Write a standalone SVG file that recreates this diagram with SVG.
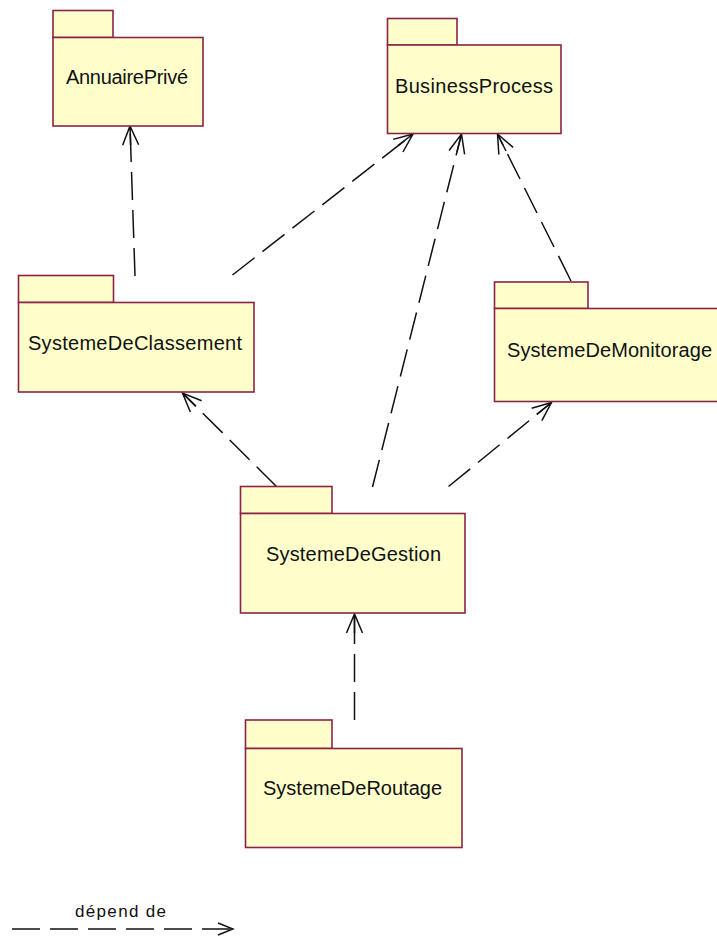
<svg xmlns="http://www.w3.org/2000/svg" width="717" height="936" viewBox="0 0 717 936">
<style>
.pk{fill:#FFFFCC;stroke:#8B2348;stroke-width:1.6}
.lb{font-family:"Liberation Sans",Arial,sans-serif;font-size:20px;fill:#111}
.dep{fill:none;stroke:#111;stroke-width:1.5;stroke-dasharray:28 10}
.lg{font-family:"Liberation Sans",Arial,sans-serif;font-size:17px;fill:#111}
</style>
<defs>
<marker id="ah" markerUnits="userSpaceOnUse" markerWidth="30" markerHeight="30" refX="0" refY="0" viewBox="-25 -15 30 30" orient="auto" overflow="visible">
<path d="M-19,-8 L0,0 L-19,8 M-19,0 L0,0" fill="none" stroke="#111" stroke-width="1.5"/>
</marker>
<marker id="ahs" markerUnits="userSpaceOnUse" markerWidth="30" markerHeight="30" refX="0" refY="0" viewBox="-25 -15 30 30" orient="auto" overflow="visible">
<path d="M-15,-6 L0,0 L-15,6" fill="none" stroke="#111" stroke-width="1.4"/>
</marker>
</defs>
<rect width="717" height="936" fill="#fff"/>
<g id="connectors">
<line class="dep" x1="135" y1="276" x2="130" y2="126" marker-end="url(#ah)"/>
<line class="dep" x1="232.5" y1="275" x2="413" y2="134" marker-end="url(#ah)"/>
<line class="dep" x1="372.5" y1="487" x2="461.5" y2="134" marker-end="url(#ah)"/>
<line class="dep" x1="571" y1="281" x2="497.5" y2="134" marker-end="url(#ah)"/>
<line class="dep" x1="276.5" y1="486.5" x2="182.5" y2="393" marker-end="url(#ah)"/>
<line class="dep" x1="448.5" y1="486.5" x2="551.5" y2="402.5" marker-end="url(#ah)"/>
<line class="dep" x1="354.5" y1="720" x2="354.5" y2="614" marker-end="url(#ah)"/>
</g>
<g id="AnnuairePrive">
<rect class="pk" x="53" y="10.5" width="60" height="27"/>
<rect class="pk" x="53" y="37.5" width="150" height="88.5"/>
<text class="lb" x="66" y="84" textLength="122" lengthAdjust="spacing">AnnuairePrivé</text>
</g>
<g id="BusinessProcess">
<rect class="pk" x="387.5" y="18.5" width="69.5" height="26.5"/>
<rect class="pk" x="387.5" y="45" width="173.5" height="88.5"/>
<text class="lb" x="395" y="93" textLength="158" lengthAdjust="spacing">BusinessProcess</text>
</g>
<g id="SystemeDeClassement">
<rect class="pk" x="18.5" y="275.5" width="95" height="27"/>
<rect class="pk" x="18.5" y="302.5" width="235.5" height="89.5"/>
<text class="lb" x="28" y="350" textLength="214" lengthAdjust="spacing">SystemeDeClassement</text>
</g>
<g id="SystemeDeMonitorage">
<rect class="pk" x="494.5" y="282" width="93.5" height="26.5"/>
<rect class="pk" x="494.5" y="308.5" width="230" height="93"/>
<text class="lb" x="507" y="357" textLength="205" lengthAdjust="spacing">SystemeDeMonitorage</text>
</g>
<g id="SystemeDeGestion">
<rect class="pk" x="240.5" y="486.5" width="91.5" height="27"/>
<rect class="pk" x="240.5" y="513.5" width="224.5" height="99.5"/>
<text class="lb" x="266" y="561" textLength="175" lengthAdjust="spacing">SystemeDeGestion</text>
</g>
<g id="SystemeDeRoutage">
<rect class="pk" x="245.5" y="720" width="86.5" height="28.5"/>
<rect class="pk" x="245.5" y="748.5" width="216.5" height="99"/>
<text class="lb" x="263" y="795" textLength="179" lengthAdjust="spacing">SystemeDeRoutage</text>
</g>
<g id="legend">
<text class="lg" x="75" y="917" textLength="91" lengthAdjust="spacing">dépend de</text>
<line class="dep" x1="12" y1="929" x2="233" y2="929" marker-end="url(#ahs)"/>
</g>
</svg>
